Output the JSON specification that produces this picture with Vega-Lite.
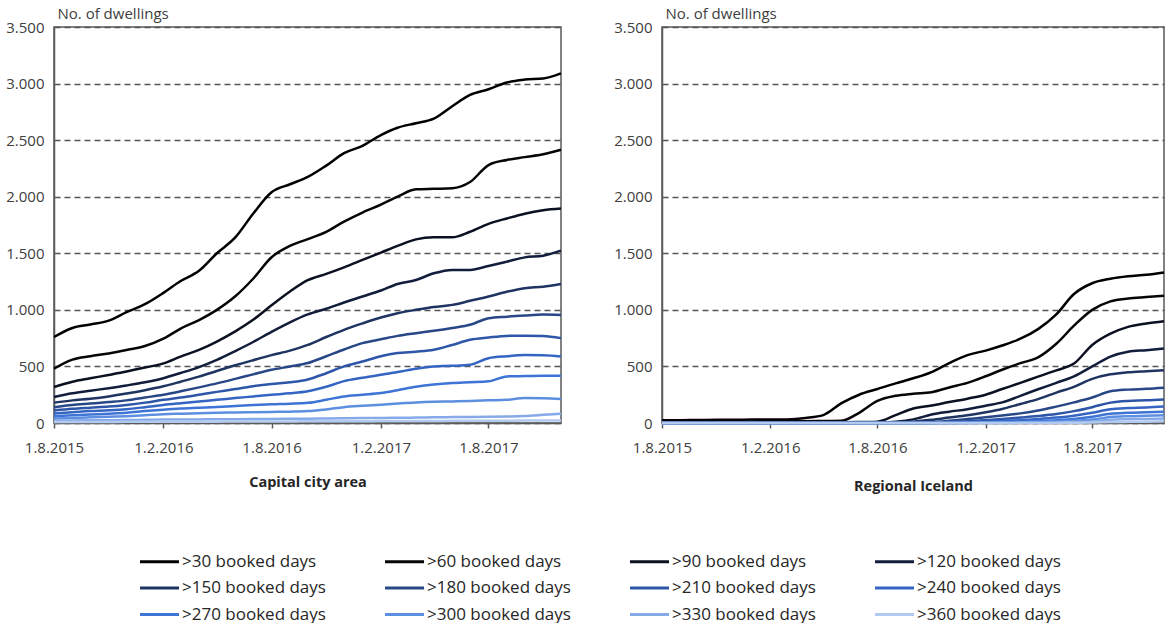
{
"$schema":"https://vega.github.io/schema/vega-lite/v6.json",
"padding":{"left":5,"top":5,"right":5,"bottom":0},
"config":{"font":"Open Sans","view":{"stroke":"#5a5a5a","strokeWidth":1.5},"concat":{"spacing":46}},
"datasets":{
"C":[
{"k":">30","d":"2015-08","v":760},{"k":">30","d":"2015-09","v":840},{"k":">30","d":"2015-10","v":870},{"k":">30","d":"2015-11","v":905},{"k":">30","d":"2015-12","v":980},{"k":">30","d":"2016-01","v":1050},{"k":">30","d":"2016-02","v":1150},{"k":">30","d":"2016-03","v":1255},{"k":">30","d":"2016-04","v":1345},{"k":">30","d":"2016-05","v":1500},{"k":">30","d":"2016-06","v":1640},{"k":">30","d":"2016-07","v":1850},{"k":">30","d":"2016-08","v":2040},{"k":">30","d":"2016-09","v":2110},{"k":">30","d":"2016-10","v":2175},{"k":">30","d":"2016-11","v":2275},{"k":">30","d":"2016-12","v":2385},{"k":">30","d":"2017-01","v":2450},{"k":">30","d":"2017-02","v":2545},{"k":">30","d":"2017-03","v":2610},{"k":">30","d":"2017-04","v":2650},{"k":">30","d":"2017-05","v":2690},{"k":">30","d":"2017-06","v":2800},{"k":">30","d":"2017-07","v":2900},{"k":">30","d":"2017-08","v":2950},{"k":">30","d":"2017-09","v":3010},{"k":">30","d":"2017-10","v":3035},{"k":">30","d":"2017-11","v":3045},{"k":">30","d":"2017-12","v":3090},
{"k":">60","d":"2015-08","v":480},{"k":">60","d":"2015-09","v":560},{"k":">60","d":"2015-10","v":590},{"k":">60","d":"2015-11","v":615},{"k":">60","d":"2015-12","v":645},{"k":">60","d":"2016-01","v":680},{"k":">60","d":"2016-02","v":745},{"k":">60","d":"2016-03","v":835},{"k":">60","d":"2016-04","v":910},{"k":">60","d":"2016-05","v":1000},{"k":">60","d":"2016-06","v":1120},{"k":">60","d":"2016-07","v":1275},{"k":">60","d":"2016-08","v":1465},{"k":">60","d":"2016-09","v":1565},{"k":">60","d":"2016-10","v":1625},{"k":">60","d":"2016-11","v":1690},{"k":">60","d":"2016-12","v":1780},{"k":">60","d":"2017-01","v":1860},{"k":">60","d":"2017-02","v":1930},{"k":">60","d":"2017-03","v":2000},{"k":">60","d":"2017-04","v":2065},{"k":">60","d":"2017-05","v":2070},{"k":">60","d":"2017-06","v":2075},{"k":">60","d":"2017-07","v":2130},{"k":">60","d":"2017-08","v":2280},{"k":">60","d":"2017-09","v":2325},{"k":">60","d":"2017-10","v":2350},{"k":">60","d":"2017-11","v":2375},{"k":">60","d":"2017-12","v":2415},
{"k":">90","d":"2015-08","v":318},{"k":">90","d":"2015-09","v":365},{"k":">90","d":"2015-10","v":395},{"k":">90","d":"2015-11","v":425},{"k":">90","d":"2015-12","v":455},{"k":">90","d":"2016-01","v":490},{"k":">90","d":"2016-02","v":527},{"k":">90","d":"2016-03","v":587},{"k":">90","d":"2016-04","v":646},{"k":">90","d":"2016-05","v":720},{"k":">90","d":"2016-06","v":810},{"k":">90","d":"2016-07","v":912},{"k":">90","d":"2016-08","v":1040},{"k":">90","d":"2016-09","v":1162},{"k":">90","d":"2016-10","v":1262},{"k":">90","d":"2016-11","v":1318},{"k":">90","d":"2016-12","v":1376},{"k":">90","d":"2017-01","v":1441},{"k":">90","d":"2017-02","v":1506},{"k":">90","d":"2017-03","v":1565},{"k":">90","d":"2017-04","v":1623},{"k":">90","d":"2017-05","v":1641},{"k":">90","d":"2017-06","v":1641},{"k":">90","d":"2017-07","v":1690},{"k":">90","d":"2017-08","v":1760},{"k":">90","d":"2017-09","v":1808},{"k":">90","d":"2017-10","v":1850},{"k":">90","d":"2017-11","v":1880},{"k":">90","d":"2017-12","v":1895},
{"k":">120","d":"2015-08","v":230},{"k":">120","d":"2015-09","v":262},{"k":">120","d":"2015-10","v":285},{"k":">120","d":"2015-11","v":308},{"k":">120","d":"2015-12","v":332},{"k":">120","d":"2016-01","v":360},{"k":">120","d":"2016-02","v":396},{"k":">120","d":"2016-03","v":442},{"k":">120","d":"2016-04","v":494},{"k":">120","d":"2016-05","v":558},{"k":">120","d":"2016-06","v":636},{"k":">120","d":"2016-07","v":716},{"k":">120","d":"2016-08","v":806},{"k":">120","d":"2016-09","v":890},{"k":">120","d":"2016-10","v":960},{"k":">120","d":"2016-11","v":1010},{"k":">120","d":"2016-12","v":1065},{"k":">120","d":"2017-01","v":1118},{"k":">120","d":"2017-02","v":1171},{"k":">120","d":"2017-03","v":1229},{"k":">120","d":"2017-04","v":1264},{"k":">120","d":"2017-05","v":1323},{"k":">120","d":"2017-06","v":1353},{"k":">120","d":"2017-07","v":1353},{"k":">120","d":"2017-08","v":1388},{"k":">120","d":"2017-09","v":1426},{"k":">120","d":"2017-10","v":1464},{"k":">120","d":"2017-11","v":1479},{"k":">120","d":"2017-12","v":1523},
{"k":">150","d":"2015-08","v":180},{"k":">150","d":"2015-09","v":200},{"k":">150","d":"2015-10","v":215},{"k":">150","d":"2015-11","v":235},{"k":">150","d":"2015-12","v":260},{"k":">150","d":"2016-01","v":290},{"k":">150","d":"2016-02","v":325},{"k":">150","d":"2016-03","v":365},{"k":">150","d":"2016-04","v":410},{"k":">150","d":"2016-05","v":460},{"k":">150","d":"2016-06","v":510},{"k":">150","d":"2016-07","v":555},{"k":">150","d":"2016-08","v":600},{"k":">150","d":"2016-09","v":640},{"k":">150","d":"2016-10","v":690},{"k":">150","d":"2016-11","v":760},{"k":">150","d":"2016-12","v":823},{"k":">150","d":"2017-01","v":880},{"k":">150","d":"2017-02","v":932},{"k":">150","d":"2017-03","v":970},{"k":">150","d":"2017-04","v":1000},{"k":">150","d":"2017-05","v":1025},{"k":">150","d":"2017-06","v":1044},{"k":">150","d":"2017-07","v":1080},{"k":">150","d":"2017-08","v":1118},{"k":">150","d":"2017-09","v":1160},{"k":">150","d":"2017-10","v":1191},{"k":">150","d":"2017-11","v":1205},{"k":">150","d":"2017-12","v":1229},
{"k":">180","d":"2015-08","v":140},{"k":">180","d":"2015-09","v":160},{"k":">180","d":"2015-10","v":172},{"k":">180","d":"2015-11","v":185},{"k":">180","d":"2015-12","v":200},{"k":">180","d":"2016-01","v":225},{"k":">180","d":"2016-02","v":250},{"k":">180","d":"2016-03","v":280},{"k":">180","d":"2016-04","v":315},{"k":">180","d":"2016-05","v":350},{"k":">180","d":"2016-06","v":390},{"k":">180","d":"2016-07","v":430},{"k":">180","d":"2016-08","v":470},{"k":">180","d":"2016-09","v":500},{"k":">180","d":"2016-10","v":530},{"k":">180","d":"2016-11","v":590},{"k":">180","d":"2016-12","v":650},{"k":">180","d":"2017-01","v":706},{"k":">180","d":"2017-02","v":740},{"k":">180","d":"2017-03","v":770},{"k":">180","d":"2017-04","v":794},{"k":">180","d":"2017-05","v":815},{"k":">180","d":"2017-06","v":840},{"k":">180","d":"2017-07","v":868},{"k":">180","d":"2017-08","v":926},{"k":">180","d":"2017-09","v":940},{"k":">180","d":"2017-10","v":950},{"k":">180","d":"2017-11","v":958},{"k":">180","d":"2017-12","v":955},
{"k":">210","d":"2015-08","v":110},{"k":">210","d":"2015-09","v":125},{"k":">210","d":"2015-10","v":135},{"k":">210","d":"2015-11","v":145},{"k":">210","d":"2015-12","v":160},{"k":">210","d":"2016-01","v":180},{"k":">210","d":"2016-02","v":205},{"k":">210","d":"2016-03","v":225},{"k":">210","d":"2016-04","v":250},{"k":">210","d":"2016-05","v":275},{"k":">210","d":"2016-06","v":300},{"k":">210","d":"2016-07","v":325},{"k":">210","d":"2016-08","v":345},{"k":">210","d":"2016-09","v":360},{"k":">210","d":"2016-10","v":385},{"k":">210","d":"2016-11","v":440},{"k":">210","d":"2016-12","v":500},{"k":">210","d":"2017-01","v":544},{"k":">210","d":"2017-02","v":590},{"k":">210","d":"2017-03","v":618},{"k":">210","d":"2017-04","v":630},{"k":">210","d":"2017-05","v":647},{"k":">210","d":"2017-06","v":690},{"k":">210","d":"2017-07","v":735},{"k":">210","d":"2017-08","v":755},{"k":">210","d":"2017-09","v":770},{"k":">210","d":"2017-10","v":772},{"k":">210","d":"2017-11","v":770},{"k":">210","d":"2017-12","v":750},
{"k":">240","d":"2015-08","v":85},{"k":">240","d":"2015-09","v":95},{"k":">240","d":"2015-10","v":105},{"k":">240","d":"2015-11","v":112},{"k":">240","d":"2015-12","v":122},{"k":">240","d":"2016-01","v":140},{"k":">240","d":"2016-02","v":160},{"k":">240","d":"2016-03","v":175},{"k":">240","d":"2016-04","v":190},{"k":">240","d":"2016-05","v":205},{"k":">240","d":"2016-06","v":220},{"k":">240","d":"2016-07","v":235},{"k":">240","d":"2016-08","v":250},{"k":">240","d":"2016-09","v":262},{"k":">240","d":"2016-10","v":280},{"k":">240","d":"2016-11","v":320},{"k":">240","d":"2016-12","v":370},{"k":">240","d":"2017-01","v":400},{"k":">240","d":"2017-02","v":426},{"k":">240","d":"2017-03","v":450},{"k":">240","d":"2017-04","v":480},{"k":">240","d":"2017-05","v":500},{"k":">240","d":"2017-06","v":505},{"k":">240","d":"2017-07","v":515},{"k":">240","d":"2017-08","v":573},{"k":">240","d":"2017-09","v":590},{"k":">240","d":"2017-10","v":600},{"k":">240","d":"2017-11","v":598},{"k":">240","d":"2017-12","v":588},
{"k":">270","d":"2015-08","v":60},{"k":">270","d":"2015-09","v":68},{"k":">270","d":"2015-10","v":75},{"k":">270","d":"2015-11","v":82},{"k":">270","d":"2015-12","v":90},{"k":">270","d":"2016-01","v":105},{"k":">270","d":"2016-02","v":118},{"k":">270","d":"2016-03","v":128},{"k":">270","d":"2016-04","v":135},{"k":">270","d":"2016-05","v":142},{"k":">270","d":"2016-06","v":150},{"k":">270","d":"2016-07","v":158},{"k":">270","d":"2016-08","v":165},{"k":">270","d":"2016-09","v":170},{"k":">270","d":"2016-10","v":178},{"k":">270","d":"2016-11","v":205},{"k":">270","d":"2016-12","v":235},{"k":">270","d":"2017-01","v":250},{"k":">270","d":"2017-02","v":265},{"k":">270","d":"2017-03","v":290},{"k":">270","d":"2017-04","v":320},{"k":">270","d":"2017-05","v":340},{"k":">270","d":"2017-06","v":353},{"k":">270","d":"2017-07","v":360},{"k":">270","d":"2017-08","v":368},{"k":">270","d":"2017-09","v":412},{"k":">270","d":"2017-10","v":415},{"k":">270","d":"2017-11","v":418},{"k":">270","d":"2017-12","v":418},
{"k":">300","d":"2015-08","v":40},{"k":">300","d":"2015-09","v":45},{"k":">300","d":"2015-10","v":50},{"k":">300","d":"2015-11","v":55},{"k":">300","d":"2015-12","v":60},{"k":">300","d":"2016-01","v":68},{"k":">300","d":"2016-02","v":78},{"k":">300","d":"2016-03","v":82},{"k":">300","d":"2016-04","v":86},{"k":">300","d":"2016-05","v":90},{"k":">300","d":"2016-06","v":93},{"k":">300","d":"2016-07","v":96},{"k":">300","d":"2016-08","v":98},{"k":">300","d":"2016-09","v":100},{"k":">300","d":"2016-10","v":105},{"k":">300","d":"2016-11","v":120},{"k":">300","d":"2016-12","v":140},{"k":">300","d":"2017-01","v":152},{"k":">300","d":"2017-02","v":162},{"k":">300","d":"2017-03","v":172},{"k":">300","d":"2017-04","v":182},{"k":">300","d":"2017-05","v":188},{"k":">300","d":"2017-06","v":191},{"k":">300","d":"2017-07","v":195},{"k":">300","d":"2017-08","v":200},{"k":">300","d":"2017-09","v":205},{"k":">300","d":"2017-10","v":220},{"k":">300","d":"2017-11","v":218},{"k":">300","d":"2017-12","v":212},
{"k":">330","d":"2015-08","v":20},{"k":">330","d":"2015-09","v":22},{"k":">330","d":"2015-10","v":24},{"k":">330","d":"2015-11","v":25},{"k":">330","d":"2015-12","v":26},{"k":">330","d":"2016-01","v":28},{"k":">330","d":"2016-02","v":30},{"k":">330","d":"2016-03","v":31},{"k":">330","d":"2016-04","v":32},{"k":">330","d":"2016-05","v":33},{"k":">330","d":"2016-06","v":34},{"k":">330","d":"2016-07","v":35},{"k":">330","d":"2016-08","v":36},{"k":">330","d":"2016-09","v":37},{"k":">330","d":"2016-10","v":38},{"k":">330","d":"2016-11","v":40},{"k":">330","d":"2016-12","v":42},{"k":">330","d":"2017-01","v":44},{"k":">330","d":"2017-02","v":45},{"k":">330","d":"2017-03","v":46},{"k":">330","d":"2017-04","v":48},{"k":">330","d":"2017-05","v":50},{"k":">330","d":"2017-06","v":52},{"k":">330","d":"2017-07","v":54},{"k":">330","d":"2017-08","v":56},{"k":">330","d":"2017-09","v":58},{"k":">330","d":"2017-10","v":62},{"k":">330","d":"2017-11","v":72},{"k":">330","d":"2017-12","v":82},
{"k":">360","d":"2015-08","v":8},{"k":">360","d":"2015-09","v":8},{"k":">360","d":"2015-10","v":9},{"k":">360","d":"2015-11","v":9},{"k":">360","d":"2015-12","v":10},{"k":">360","d":"2016-01","v":10},{"k":">360","d":"2016-02","v":11},{"k":">360","d":"2016-03","v":11},{"k":">360","d":"2016-04","v":12},{"k":">360","d":"2016-05","v":12},{"k":">360","d":"2016-06","v":13},{"k":">360","d":"2016-07","v":13},{"k":">360","d":"2016-08","v":14},{"k":">360","d":"2016-09","v":14},{"k":">360","d":"2016-10","v":15},{"k":">360","d":"2016-11","v":15},{"k":">360","d":"2016-12","v":16},{"k":">360","d":"2017-01","v":16},{"k":">360","d":"2017-02","v":17},{"k":">360","d":"2017-03","v":17},{"k":">360","d":"2017-04","v":18},{"k":">360","d":"2017-05","v":18},{"k":">360","d":"2017-06","v":19},{"k":">360","d":"2017-07","v":19},{"k":">360","d":"2017-08","v":20},{"k":">360","d":"2017-09","v":20},{"k":">360","d":"2017-10","v":21},{"k":">360","d":"2017-11","v":22},{"k":">360","d":"2017-12","v":22}
],
"R":[
{"k":">30","d":"2015-08","v":25},{"k":">30","d":"2015-09","v":25},{"k":">30","d":"2015-10","v":27},{"k":">30","d":"2015-11","v":28},{"k":">30","d":"2015-12","v":28},{"k":">30","d":"2016-01","v":30},{"k":">30","d":"2016-02","v":30},{"k":">30","d":"2016-03","v":32},{"k":">30","d":"2016-04","v":45},{"k":">30","d":"2016-05","v":70},{"k":">30","d":"2016-06","v":175},{"k":">30","d":"2016-07","v":250},{"k":">30","d":"2016-08","v":300},{"k":">30","d":"2016-09","v":350},{"k":">30","d":"2016-10","v":395},{"k":">30","d":"2016-11","v":450},{"k":">30","d":"2016-12","v":530},{"k":">30","d":"2017-01","v":600},{"k":">30","d":"2017-02","v":640},{"k":">30","d":"2017-03","v":685},{"k":">30","d":"2017-04","v":745},{"k":">30","d":"2017-05","v":830},{"k":">30","d":"2017-06","v":960},{"k":">30","d":"2017-07","v":1140},{"k":">30","d":"2017-08","v":1235},{"k":">30","d":"2017-09","v":1275},{"k":">30","d":"2017-10","v":1297},{"k":">30","d":"2017-11","v":1310},{"k":">30","d":"2017-12","v":1330},
{"k":">60","d":"2015-08","v":12},{"k":">60","d":"2015-09","v":12},{"k":">60","d":"2015-10","v":13},{"k":">60","d":"2015-11","v":13},{"k":">60","d":"2015-12","v":14},{"k":">60","d":"2016-01","v":14},{"k":">60","d":"2016-02","v":15},{"k":">60","d":"2016-03","v":15},{"k":">60","d":"2016-04","v":16},{"k":">60","d":"2016-05","v":18},{"k":">60","d":"2016-06","v":20},{"k":">60","d":"2016-07","v":90},{"k":">60","d":"2016-08","v":195},{"k":">60","d":"2016-09","v":240},{"k":">60","d":"2016-10","v":258},{"k":">60","d":"2016-11","v":272},{"k":">60","d":"2016-12","v":314},{"k":">60","d":"2017-01","v":355},{"k":">60","d":"2017-02","v":413},{"k":">60","d":"2017-03","v":471},{"k":">60","d":"2017-04","v":529},{"k":">60","d":"2017-05","v":580},{"k":">60","d":"2017-06","v":700},{"k":">60","d":"2017-07","v":860},{"k":">60","d":"2017-08","v":1000},{"k":">60","d":"2017-09","v":1075},{"k":">60","d":"2017-10","v":1100},{"k":">60","d":"2017-11","v":1113},{"k":">60","d":"2017-12","v":1125},
{"k":">90","d":"2015-08","v":5},{"k":">90","d":"2015-09","v":5},{"k":">90","d":"2015-10","v":5},{"k":">90","d":"2015-11","v":5},{"k":">90","d":"2015-12","v":5},{"k":">90","d":"2016-01","v":6},{"k":">90","d":"2016-02","v":6},{"k":">90","d":"2016-03","v":6},{"k":">90","d":"2016-04","v":6},{"k":">90","d":"2016-05","v":7},{"k":">90","d":"2016-06","v":7},{"k":">90","d":"2016-07","v":8},{"k":">90","d":"2016-08","v":12},{"k":">90","d":"2016-09","v":70},{"k":">90","d":"2016-10","v":128},{"k":">90","d":"2016-11","v":155},{"k":">90","d":"2016-12","v":185},{"k":">90","d":"2017-01","v":215},{"k":">90","d":"2017-02","v":250},{"k":">90","d":"2017-03","v":300},{"k":">90","d":"2017-04","v":355},{"k":">90","d":"2017-05","v":410},{"k":">90","d":"2017-06","v":465},{"k":">90","d":"2017-07","v":525},{"k":">90","d":"2017-08","v":690},{"k":">90","d":"2017-09","v":790},{"k":">90","d":"2017-10","v":850},{"k":">90","d":"2017-11","v":880},{"k":">90","d":"2017-12","v":900},
{"k":">120","d":"2015-08","v":3},{"k":">120","d":"2015-09","v":3},{"k":">120","d":"2015-10","v":3},{"k":">120","d":"2015-11","v":3},{"k":">120","d":"2015-12","v":3},{"k":">120","d":"2016-01","v":3},{"k":">120","d":"2016-02","v":3},{"k":">120","d":"2016-03","v":3},{"k":">120","d":"2016-04","v":3},{"k":">120","d":"2016-05","v":3},{"k":">120","d":"2016-06","v":4},{"k":">120","d":"2016-07","v":4},{"k":">120","d":"2016-08","v":4},{"k":">120","d":"2016-09","v":12},{"k":">120","d":"2016-10","v":32},{"k":">120","d":"2016-11","v":75},{"k":">120","d":"2016-12","v":100},{"k":">120","d":"2017-01","v":122},{"k":">120","d":"2017-02","v":153},{"k":">120","d":"2017-03","v":182},{"k":">120","d":"2017-04","v":240},{"k":">120","d":"2017-05","v":298},{"k":">120","d":"2017-06","v":355},{"k":">120","d":"2017-07","v":413},{"k":">120","d":"2017-08","v":500},{"k":">120","d":"2017-09","v":587},{"k":">120","d":"2017-10","v":630},{"k":">120","d":"2017-11","v":644},{"k":">120","d":"2017-12","v":659},
{"k":">150","d":"2015-08","v":2},{"k":">150","d":"2015-09","v":2},{"k":">150","d":"2015-10","v":2},{"k":">150","d":"2015-11","v":2},{"k":">150","d":"2015-12","v":2},{"k":">150","d":"2016-01","v":2},{"k":">150","d":"2016-02","v":2},{"k":">150","d":"2016-03","v":2},{"k":">150","d":"2016-04","v":2},{"k":">150","d":"2016-05","v":2},{"k":">150","d":"2016-06","v":2},{"k":">150","d":"2016-07","v":3},{"k":">150","d":"2016-08","v":3},{"k":">150","d":"2016-09","v":4},{"k":">150","d":"2016-10","v":12},{"k":">150","d":"2016-11","v":28},{"k":">150","d":"2016-12","v":48},{"k":">150","d":"2017-01","v":68},{"k":">150","d":"2017-02","v":95},{"k":">150","d":"2017-03","v":124},{"k":">150","d":"2017-04","v":168},{"k":">150","d":"2017-05","v":211},{"k":">150","d":"2017-06","v":269},{"k":">150","d":"2017-07","v":320},{"k":">150","d":"2017-08","v":390},{"k":">150","d":"2017-09","v":430},{"k":">150","d":"2017-10","v":448},{"k":">150","d":"2017-11","v":458},{"k":">150","d":"2017-12","v":467},
{"k":">180","d":"2015-08","v":1},{"k":">180","d":"2015-09","v":1},{"k":">180","d":"2015-10","v":1},{"k":">180","d":"2015-11","v":1},{"k":">180","d":"2015-12","v":1},{"k":">180","d":"2016-01","v":1},{"k":">180","d":"2016-02","v":1},{"k":">180","d":"2016-03","v":1},{"k":">180","d":"2016-04","v":1},{"k":">180","d":"2016-05","v":1},{"k":">180","d":"2016-06","v":1},{"k":">180","d":"2016-07","v":1},{"k":">180","d":"2016-08","v":2},{"k":">180","d":"2016-09","v":2},{"k":">180","d":"2016-10","v":3},{"k":">180","d":"2016-11","v":8},{"k":">180","d":"2016-12","v":20},{"k":">180","d":"2017-01","v":35},{"k":">180","d":"2017-02","v":50},{"k":">180","d":"2017-03","v":66},{"k":">180","d":"2017-04","v":85},{"k":">180","d":"2017-05","v":110},{"k":">180","d":"2017-06","v":145},{"k":">180","d":"2017-07","v":182},{"k":">180","d":"2017-08","v":225},{"k":">180","d":"2017-09","v":280},{"k":">180","d":"2017-10","v":295},{"k":">180","d":"2017-11","v":302},{"k":">180","d":"2017-12","v":312},
{"k":">210","d":"2015-08","v":1},{"k":">210","d":"2015-09","v":1},{"k":">210","d":"2015-10","v":1},{"k":">210","d":"2015-11","v":1},{"k":">210","d":"2015-12","v":1},{"k":">210","d":"2016-01","v":1},{"k":">210","d":"2016-02","v":1},{"k":">210","d":"2016-03","v":1},{"k":">210","d":"2016-04","v":1},{"k":">210","d":"2016-05","v":1},{"k":">210","d":"2016-06","v":1},{"k":">210","d":"2016-07","v":1},{"k":">210","d":"2016-08","v":1},{"k":">210","d":"2016-09","v":1},{"k":">210","d":"2016-10","v":1},{"k":">210","d":"2016-11","v":3},{"k":">210","d":"2016-12","v":8},{"k":">210","d":"2017-01","v":15},{"k":">210","d":"2017-02","v":25},{"k":">210","d":"2017-03","v":35},{"k":">210","d":"2017-04","v":48},{"k":">210","d":"2017-05","v":62},{"k":">210","d":"2017-06","v":80},{"k":">210","d":"2017-07","v":105},{"k":">210","d":"2017-08","v":140},{"k":">210","d":"2017-09","v":180},{"k":">210","d":"2017-10","v":195},{"k":">210","d":"2017-11","v":200},{"k":">210","d":"2017-12","v":208},
{"k":">240","d":"2015-08","v":1},{"k":">240","d":"2015-09","v":1},{"k":">240","d":"2015-10","v":1},{"k":">240","d":"2015-11","v":1},{"k":">240","d":"2015-12","v":1},{"k":">240","d":"2016-01","v":1},{"k":">240","d":"2016-02","v":1},{"k":">240","d":"2016-03","v":1},{"k":">240","d":"2016-04","v":1},{"k":">240","d":"2016-05","v":1},{"k":">240","d":"2016-06","v":1},{"k":">240","d":"2016-07","v":1},{"k":">240","d":"2016-08","v":1},{"k":">240","d":"2016-09","v":1},{"k":">240","d":"2016-10","v":1},{"k":">240","d":"2016-11","v":1},{"k":">240","d":"2016-12","v":2},{"k":">240","d":"2017-01","v":5},{"k":">240","d":"2017-02","v":10},{"k":">240","d":"2017-03","v":18},{"k":">240","d":"2017-04","v":25},{"k":">240","d":"2017-05","v":35},{"k":">240","d":"2017-06","v":48},{"k":">240","d":"2017-07","v":65},{"k":">240","d":"2017-08","v":90},{"k":">240","d":"2017-09","v":122},{"k":">240","d":"2017-10","v":132},{"k":">240","d":"2017-11","v":137},{"k":">240","d":"2017-12","v":145},
{"k":">270","d":"2015-08","v":0},{"k":">270","d":"2015-09","v":0},{"k":">270","d":"2015-10","v":0},{"k":">270","d":"2015-11","v":0},{"k":">270","d":"2015-12","v":0},{"k":">270","d":"2016-01","v":0},{"k":">270","d":"2016-02","v":0},{"k":">270","d":"2016-03","v":0},{"k":">270","d":"2016-04","v":0},{"k":">270","d":"2016-05","v":0},{"k":">270","d":"2016-06","v":0},{"k":">270","d":"2016-07","v":0},{"k":">270","d":"2016-08","v":0},{"k":">270","d":"2016-09","v":0},{"k":">270","d":"2016-10","v":0},{"k":">270","d":"2016-11","v":0},{"k":">270","d":"2016-12","v":0},{"k":">270","d":"2017-01","v":2},{"k":">270","d":"2017-02","v":5},{"k":">270","d":"2017-03","v":8},{"k":">270","d":"2017-04","v":12},{"k":">270","d":"2017-05","v":18},{"k":">270","d":"2017-06","v":25},{"k":">270","d":"2017-07","v":35},{"k":">270","d":"2017-08","v":55},{"k":">270","d":"2017-09","v":82},{"k":">270","d":"2017-10","v":90},{"k":">270","d":"2017-11","v":95},{"k":">270","d":"2017-12","v":100},
{"k":">300","d":"2015-08","v":0},{"k":">300","d":"2015-09","v":0},{"k":">300","d":"2015-10","v":0},{"k":">300","d":"2015-11","v":0},{"k":">300","d":"2015-12","v":0},{"k":">300","d":"2016-01","v":0},{"k":">300","d":"2016-02","v":0},{"k":">300","d":"2016-03","v":0},{"k":">300","d":"2016-04","v":0},{"k":">300","d":"2016-05","v":0},{"k":">300","d":"2016-06","v":0},{"k":">300","d":"2016-07","v":0},{"k":">300","d":"2016-08","v":0},{"k":">300","d":"2016-09","v":0},{"k":">300","d":"2016-10","v":0},{"k":">300","d":"2016-11","v":0},{"k":">300","d":"2016-12","v":0},{"k":">300","d":"2017-01","v":0},{"k":">300","d":"2017-02","v":2},{"k":">300","d":"2017-03","v":4},{"k":">300","d":"2017-04","v":6},{"k":">300","d":"2017-05","v":9},{"k":">300","d":"2017-06","v":13},{"k":">300","d":"2017-07","v":20},{"k":">300","d":"2017-08","v":30},{"k":">300","d":"2017-09","v":52},{"k":">300","d":"2017-10","v":60},{"k":">300","d":"2017-11","v":64},{"k":">300","d":"2017-12","v":68},
{"k":">330","d":"2015-08","v":0},{"k":">330","d":"2015-09","v":0},{"k":">330","d":"2015-10","v":0},{"k":">330","d":"2015-11","v":0},{"k":">330","d":"2015-12","v":0},{"k":">330","d":"2016-01","v":0},{"k":">330","d":"2016-02","v":0},{"k":">330","d":"2016-03","v":0},{"k":">330","d":"2016-04","v":0},{"k":">330","d":"2016-05","v":0},{"k":">330","d":"2016-06","v":0},{"k":">330","d":"2016-07","v":0},{"k":">330","d":"2016-08","v":0},{"k":">330","d":"2016-09","v":0},{"k":">330","d":"2016-10","v":0},{"k":">330","d":"2016-11","v":0},{"k":">330","d":"2016-12","v":0},{"k":">330","d":"2017-01","v":0},{"k":">330","d":"2017-02","v":0},{"k":">330","d":"2017-03","v":0},{"k":">330","d":"2017-04","v":2},{"k":">330","d":"2017-05","v":3},{"k":">330","d":"2017-06","v":5},{"k":">330","d":"2017-07","v":8},{"k":">330","d":"2017-08","v":14},{"k":">330","d":"2017-09","v":28},{"k":">330","d":"2017-10","v":33},{"k":">330","d":"2017-11","v":36},{"k":">330","d":"2017-12","v":40},
{"k":">360","d":"2015-08","v":0},{"k":">360","d":"2015-09","v":0},{"k":">360","d":"2015-10","v":0},{"k":">360","d":"2015-11","v":0},{"k":">360","d":"2015-12","v":0},{"k":">360","d":"2016-01","v":0},{"k":">360","d":"2016-02","v":0},{"k":">360","d":"2016-03","v":0},{"k":">360","d":"2016-04","v":0},{"k":">360","d":"2016-05","v":0},{"k":">360","d":"2016-06","v":0},{"k":">360","d":"2016-07","v":0},{"k":">360","d":"2016-08","v":0},{"k":">360","d":"2016-09","v":0},{"k":">360","d":"2016-10","v":0},{"k":">360","d":"2016-11","v":0},{"k":">360","d":"2016-12","v":0},{"k":">360","d":"2017-01","v":0},{"k":">360","d":"2017-02","v":0},{"k":">360","d":"2017-03","v":0},{"k":">360","d":"2017-04","v":0},{"k":">360","d":"2017-05","v":0},{"k":">360","d":"2017-06","v":0},{"k":">360","d":"2017-07","v":2},{"k":">360","d":"2017-08","v":4},{"k":">360","d":"2017-09","v":8},{"k":">360","d":"2017-10","v":10},{"k":">360","d":"2017-11","v":12},{"k":">360","d":"2017-12","v":15}
]},
"hconcat":[
{"data":{"name":"C"},"width":507,"height":396,
"mark":{"type":"line","strokeWidth":2.5,"interpolate":"monotone"},
"encoding":{
"x":{"field":"d","type":"temporal","scale":{"domain":[{"year":2015,"month":8,"date":1},{"year":2017,"month":12,"date":1}]},
"axis":{"values":[{"year":2015,"month":8,"date":1},{"year":2016,"month":2,"date":1},{"year":2016,"month":8,"date":1},{"year":2017,"month":2,"date":1},{"year":2017,"month":8,"date":1}],"format":"%-d.%-m.%Y","labelFlush":false,"labelFontSize":15,"labelColor":"#404040","labelPadding":12,"grid":false,"tickSize":5,"tickColor":"#5a5a5a","tickWidth":1.5,"domainColor":"#5a5a5a","domainWidth":1.5,"title":"Capital city area","titleFontSize":14.5,"titleFontWeight":"bold","titleColor":"#262626","titlePadding":20}},
"y":{"field":"v","type":"quantitative","scale":{"domain":[0,3500]},
"axis":{"values":[0,500,1000,1500,2000,2500,3000,3500],"labelExpr":"replace(format(datum.value, ','), ',', '.')","labelFontSize":15,"labelColor":"#404040","labelPadding":10,"ticks":false,"domainColor":"#5a5a5a","domainWidth":1.5,"grid":true,"gridDash":[6,4],"gridColor":"#555555","gridWidth":1.5,"title":"No. of dwellings","titleAngle":0,"titleAlign":"left","titleBaseline":"alphabetic","titleX":3,"titleY":-9,"titleFontSize":15,"titleFontWeight":"normal","titleColor":"#404040"}},
"color":{"field":"k","type":"nominal","scale":{"domain":[">30",">60",">90",">120",">150",">180",">210",">240",">270",">300",">330",">360"],"range":["#000000","#060606","#0b1120","#121d3b","#1f3461","#284786","#2e56a8","#3565c3","#3d74d5","#5d8fe0","#86a9e8","#b3caf0"]},
"legend":{"orient":"none","direction":"horizontal","legendX":94,"legendY":523,"columns":4,"title":null,"symbolType":"M-2,0H2","symbolStrokeWidth":3,"symbolSize":380,"labelFontSize":17,"labelColor":"#262626","labelOffset":11,"labelLimit":300,"gridAlign":"all","columnPadding":53,"rowPadding":6.5,"padding":0,"labelExpr":"datum.label + ' booked days'"}}}},
{"data":{"name":"R"},"width":502,"height":396,
"mark":{"type":"line","strokeWidth":2.5,"interpolate":"monotone"},
"encoding":{
"x":{"field":"d","type":"temporal","scale":{"domain":[{"year":2015,"month":8,"date":1},{"year":2017,"month":12,"date":1}]},
"axis":{"values":[{"year":2015,"month":8,"date":1},{"year":2016,"month":2,"date":1},{"year":2016,"month":8,"date":1},{"year":2017,"month":2,"date":1},{"year":2017,"month":8,"date":1}],"format":"%-d.%-m.%Y","labelFlush":false,"labelFontSize":15,"labelColor":"#404040","labelPadding":12,"grid":false,"tickSize":5,"tickColor":"#5a5a5a","tickWidth":1.5,"domainColor":"#5a5a5a","domainWidth":1.5,"title":"Regional Iceland","titleFontSize":14.5,"titleFontWeight":"bold","titleColor":"#262626","titlePadding":24}},
"y":{"field":"v","type":"quantitative","scale":{"domain":[0,3500]},
"axis":{"values":[0,500,1000,1500,2000,2500,3000,3500],"labelExpr":"replace(format(datum.value, ','), ',', '.')","labelFontSize":15,"labelColor":"#404040","labelPadding":10,"ticks":false,"domainColor":"#5a5a5a","domainWidth":1.5,"grid":true,"gridDash":[6,4],"gridColor":"#555555","gridWidth":1.5,"title":"No. of dwellings","titleAngle":0,"titleAlign":"left","titleBaseline":"alphabetic","titleX":3,"titleY":-9,"titleFontSize":15,"titleFontWeight":"normal","titleColor":"#404040"}},
"color":{"field":"k","type":"nominal"}}}
]
}
